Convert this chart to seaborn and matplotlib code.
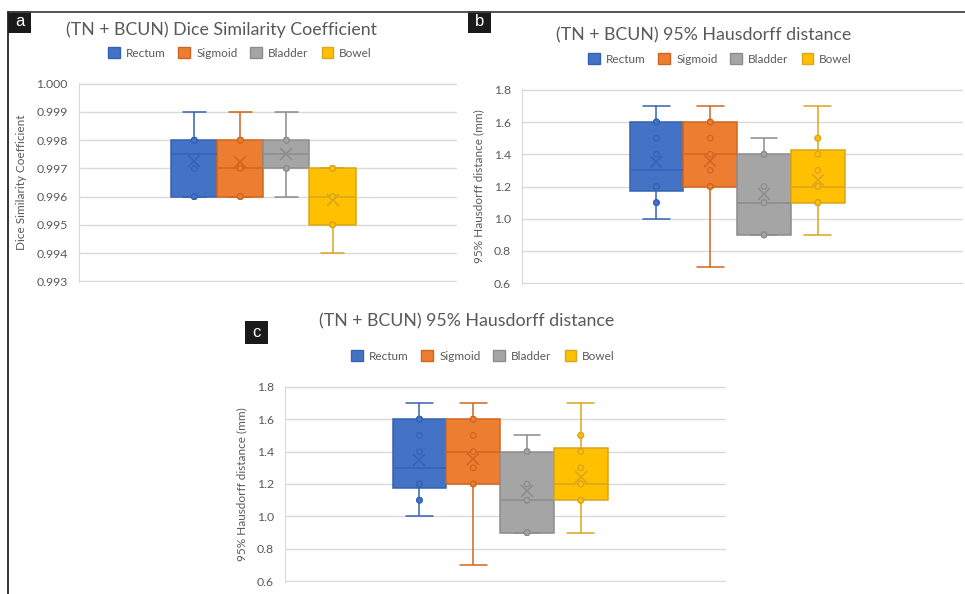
import matplotlib.pyplot as plt
import numpy as np
import pandas as pd
import seaborn as sns
from matplotlib.lines import Line2D
from matplotlib.patches import Patch, Rectangle
from matplotlib.ticker import FormatStrFormatter

# Data
organs = ['Rectum', 'Sigmoid', 'Bladder', 'Bowel']

# panel a - Dice similarity coefficient
dsc_rectum = [0.996, 0.996, 0.996, 0.997, 0.998, 0.998, 0.998, 0.999]
dsc_sigmoid = [0.996, 0.996, 0.996, 0.997, 0.997, 0.998, 0.998, 0.998, 0.999]
dsc_bladder = [0.996, 0.997, 0.997, 0.998, 0.998, 0.999]
dsc_bowel = [0.994, 0.995, 0.995, 0.996, 0.996, 0.997, 0.997, 0.997]
dsc_ticks = [0.993, 0.994, 0.995, 0.996, 0.997, 0.998, 0.999, 1.000]

# panels b and c - 95% Hausdorff distance (mm)
hd_rectum = [1.0, 1.1, 1.1, 1.2, 1.2, 1.2, 1.4, 1.5, 1.6, 1.6, 1.6, 1.7]
hd_sigmoid = [0.7, 1.2, 1.2, 1.3, 1.4, 1.5, 1.6, 1.6, 1.7]
hd_bladder = [0.9, 0.9, 0.9, 1.1, 1.1, 1.2, 1.4, 1.4, 1.5]
hd_bowel = [0.9, 0.9, 1.1, 1.1, 1.1, 1.2, 1.2, 1.3, 1.4, 1.5, 1.5, 1.7]
hd_ticks = [0.6, 0.8, 1.0, 1.2, 1.4, 1.6, 1.8]

fills = {'Rectum': '#4472C4', 'Sigmoid': '#ED7D31', 'Bladder': '#A5A5A5', 'Bowel': '#FFC000'}
edges = {'Rectum': '#3462B4', 'Sigmoid': '#D0661E', 'Bladder': '#8C8C8C', 'Bowel': '#D9A520'}
grey_txt = '#595959'

sns.set_style('white')
plt.rcParams['font.family'] = ['Lato', 'DejaVu Sans']

W, H = 965, 594


def long_df(name, values):
    rows = []
    for organ, vals in zip(organs, values):
        for v in vals:
            rows.append({'panel': name, 'organ': organ, 'value': v})
    return pd.DataFrame(rows)


def inner_points(sub):
    # Excel hides the points sitting on the whisker ends outside the box
    v = sub['value'].to_numpy()
    q1, q3 = np.percentile(v, [25, 75])
    keep = np.ones(len(v), dtype=bool)
    if v.min() < q1 - 1e-9:
        keep &= v > v.min() + 1e-9
    if v.max() > q3 + 1e-9:
        keep &= v < v.max() - 1e-9
    return sub[keep]


def px_axes(left, top, right, bottom):
    return fig.add_axes([left / W, 1 - bottom / H, (right - left) / W, (bottom - top) / H])


def draw_panel(ax, df, ticks, fmt, ylabel):
    for organ in organs:
        sub = df[df['organ'] == organ]
        sns.boxplot(data=sub, x='panel', y='value', hue='organ', hue_order=organs,
                    palette=fills, saturation=1, width=0.8, gap=0, dodge=True,
                    linecolor=edges[organ], linewidth=1.1, whis=1.5,
                    showfliers=False, showmeans=True, legend=False, ax=ax,
                    meanprops=dict(marker='x', markeredgecolor=edges[organ],
                                   markerfacecolor='none', markersize=8, markeredgewidth=1.1))
        sns.stripplot(data=inner_points(sub), x='panel', y='value', hue='organ',
                      hue_order=organs, palette=fills, dodge=True, jitter=False,
                      size=4, linewidth=0.9, edgecolor=edges[organ], legend=False,
                      ax=ax, zorder=4)
    span = ticks[-1] - ticks[0]
    ax.set_ylim(ticks[0] - span * 0.004, ticks[-1] + span * 0.004)
    ax.set_xlim(-0.8, 0.84)
    ax.set_yticks(ticks)
    ax.yaxis.set_major_formatter(FormatStrFormatter(fmt))
    ax.yaxis.grid(True, color='#D9D9D9', lw=1)
    ax.set_axisbelow(True)
    ax.set_xticks([])
    ax.set_xlabel('')
    ax.set_ylabel(ylabel, color=grey_txt, fontsize=8.5, labelpad=7)
    ax.tick_params(axis='y', length=0, labelsize=8.8, labelcolor=grey_txt, pad=8)
    for s in ['top', 'right', 'bottom']:
        ax.spines[s].set_visible(False)
    ax.spines['left'].set_color('#D9D9D9')


def legend_at(cx, cy):
    handles = [Patch(facecolor=fills[o], edgecolor=edges[o], lw=1) for o in organs]
    fig.legend(handles, organs, loc='center', bbox_to_anchor=(cx / W, 1 - cy / H),
               ncol=4, frameon=False, fontsize=8.5, labelcolor=grey_txt,
               handlelength=1.0, handleheight=1.0, handletextpad=0.5, columnspacing=1.1)


def panel_tag(letter, x0, y0, x1, y1):
    fig.add_artist(Rectangle((x0 / W, 1 - y1 / H), (x1 - x0) / W, (y1 - y0) / H,
                             facecolor='#1a1a1a', edgecolor='none'))
    fig.text((x0 + x1) / 2 / W, 1 - (y0 + y1) / 2 / H, letter, color='white',
             fontsize=12, ha='center', va='center', family='Liberation Sans')


fig = plt.figure(figsize=(W / 100, H / 100), dpi=100)

df_a = long_df('a', [dsc_rectum, dsc_sigmoid, dsc_bladder, dsc_bowel])
df_b = long_df('b', [hd_rectum, hd_sigmoid, hd_bladder, hd_bowel])
df_c = long_df('c', [hd_rectum, hd_sigmoid, hd_bladder, hd_bowel])

ax_a = px_axes(79, 83, 457, 282)
draw_panel(ax_a, df_a, dsc_ticks, '%.3f', 'Dice Similarity Coefficient')
ax_b = px_axes(522, 89, 963, 284)
draw_panel(ax_b, df_b, hd_ticks, '%.1f', '95% Hausdorff distance (mm)')
ax_c = px_axes(285, 386, 726, 582)
draw_panel(ax_c, df_c, hd_ticks, '%.1f', '95% Hausdorff distance (mm)')

# titles and legends
fig.text(222 / W, 1 - 30 / H, '(TN + BCUN) Dice Similarity Coefficient',
         ha='center', va='center', fontsize=12.8, color=grey_txt)
fig.text(704 / W, 1 - 35 / H, '(TN + BCUN) 95% Hausdorff distance',
         ha='center', va='center', fontsize=12.8, color=grey_txt)
fig.text(467 / W, 1 - 321 / H, '(TN + BCUN) 95% Hausdorff distance',
         ha='center', va='center', fontsize=12.8, color=grey_txt)
legend_at(240, 53)
legend_at(720, 59)
legend_at(483, 356)

# outer frame lines of the composite figure
fig.add_artist(Line2D([8 / W, 1], [1 - 11.5 / H, 1 - 11.5 / H], color='#444444', lw=1.3))
fig.add_artist(Line2D([8 / W, 8 / W], [0, 1 - 11.5 / H], color='#222222', lw=1.3))

panel_tag('a', 8, 11, 31, 33)
panel_tag('b', 468, 11, 491, 33)
panel_tag('c', 245, 321, 268, 344)

plt.savefig('out.png', dpi=100)
